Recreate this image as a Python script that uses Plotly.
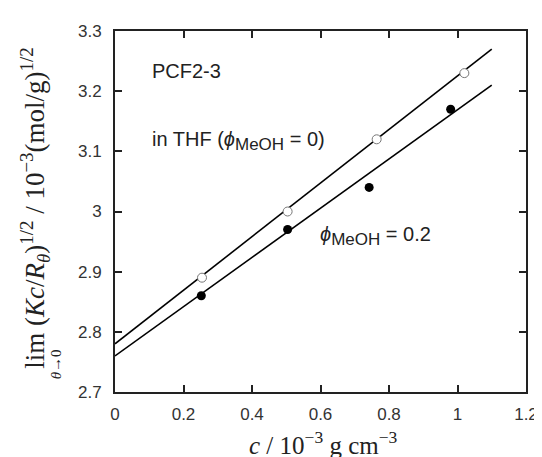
import plotly.graph_objects as go

# data
c_thf = [0.254, 0.504, 0.764, 1.02]
y_thf = [2.89, 3.00, 3.12, 3.23]
c_meoh = [0.252, 0.504, 0.742, 0.98]
y_meoh = [2.86, 2.97, 3.04, 3.17]
fit_x = [0.0, 1.1]
fit_thf = [2.78, 3.27]
fit_meoh = [2.76, 3.21]

W, H = 542, 457
L, R, T, B = 107, 15, 23, 73
pw, ph = W - L - R, H - T - B

def px(xp):
    return (xp - L) / pw

def py(yp):
    return (H - B - yp) / ph

fig = go.Figure()
fig.add_trace(go.Scatter(x=fit_x, y=fit_thf, mode="lines",
                         line=dict(color="black", width=1.6), showlegend=False))
fig.add_trace(go.Scatter(x=fit_x, y=fit_meoh, mode="lines",
                         line=dict(color="black", width=1.6), showlegend=False))
fig.add_trace(go.Scatter(x=c_thf, y=y_thf, mode="markers",
                         marker=dict(symbol="circle", size=9, color="white",
                                     line=dict(color="#777", width=1)),
                         showlegend=False))
fig.add_trace(go.Scatter(x=c_meoh, y=y_meoh, mode="markers",
                         marker=dict(symbol="circle", size=9, color="black",
                                     line=dict(color="black", width=0)),
                         showlegend=False))

axis_common = dict(showline=True, linecolor="#222", linewidth=2, mirror="ticks",
                   ticks="inside", ticklen=7, tickwidth=1.5, tickcolor="#222",
                   showgrid=False, zeroline=False,
                   tickfont=dict(family="Arial, Liberation Sans", size=17, color="#333"))

fig.update_xaxes(range=[0, 1.2], tickvals=[0, 0.2, 0.4, 0.6, 0.8, 1, 1.2],
                 ticktext=["0", "0.2", "0.4", "0.6", "0.8", "1", "1.2"],
                 ticklabelstandoff=6, **axis_common)
fig.update_yaxes(range=[2.7, 3.3], tickvals=[2.7, 2.8, 2.9, 3.0, 3.1, 3.2, 3.3],
                 ticktext=["2.7", "2.8", "2.9", "3", "3.1", "3.2", "3.3"],
                 ticklabelstandoff=8, **axis_common)

txt_font = dict(family="Arial, Liberation Sans", size=20, color="#222")
serif_x = dict(family="Liberation Serif, Times New Roman, serif", size=25, color="#222")
serif_y = dict(family="Liberation Serif, Times New Roman, serif", size=27, color="#222")
sub = '<sub><span style="font-size:17px">MeOH</span></sub>'

fig.add_annotation(x=0.103, y=3.2335, xref="x", yref="y", text="PCF2-3",
                   showarrow=False, xanchor="left", yanchor="middle", font=txt_font)
fig.add_annotation(x=0.103, y=3.117, xref="x", yref="y",
                   text="in THF (<i>ϕ</i>" + sub + " = 0)",
                   showarrow=False, xanchor="left", yanchor="middle", font=txt_font)
fig.add_annotation(x=0.594, y=2.959, xref="x", yref="y",
                   text="<i>ϕ</i>" + sub + " = 0.2",
                   showarrow=False, xanchor="left", yanchor="middle", font=txt_font)

# axis titles
fig.add_annotation(x=px(320), y=py(435), xref="paper", yref="paper",
                   text="<i>c</i> / 10<sup>−3</sup> g cm<sup>−3</sup>",
                   showarrow=False, xanchor="center", yanchor="middle", font=serif_x)
fig.add_annotation(x=px(25), y=py(200), xref="paper", yref="paper",
                   text="lim (<i>Kc</i>/<i>R</i><sub><i>θ</i></sub>)<sup>1/2</sup> / 10<sup>−3</sup>(mol/g)<sup>1/2</sup>",
                   textangle=-90,
                   showarrow=False, xanchor="center", yanchor="middle", font=serif_y)
fig.add_annotation(x=px(47), y=py(356), xref="paper", yref="paper",
                   text="<i>θ</i>→0", textangle=-90,
                   showarrow=False, xanchor="center", yanchor="middle",
                   font=dict(family="Liberation Serif, Times New Roman, serif", size=15, color="#222"))

fig.update_layout(width=W, height=H, margin=dict(l=L, r=R, t=T, b=B),
                  paper_bgcolor="white", plot_bgcolor="white")

fig.write_html("out.html")
